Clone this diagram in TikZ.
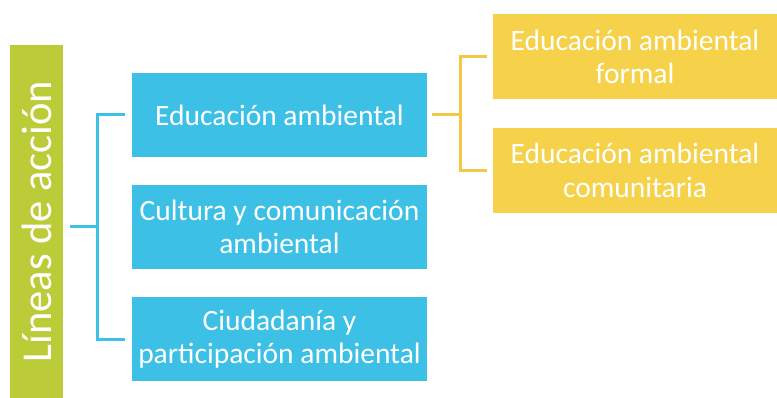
\documentclass[tikz,border=0pt]{standalone}
\usepackage{fontspec}
\setmainfont{Carlito}
\definecolor{cblue}{RGB}{60,192,230}
\definecolor{cyel}{RGB}{245,210,74}
\definecolor{cgreen}{RGB}{188,204,56}
\definecolor{cyline}{RGB}{242,200,70}
\begin{document}
\begin{tikzpicture}[x=1pt,y=-1pt,
  bluebox/.style={fill=cblue,text=white,minimum width=295pt,minimum height=84pt,align=center,inner sep=0pt,
    font=\fontsize{29.5}{33.5}\selectfont},
  yelbox/.style={fill=cyel,text=white,minimum width=284pt,minimum height=85pt,align=center,inner sep=0pt,
    font=\fontsize{29.5}{33.5}\selectfont},
  greenbar/.style={fill=cgreen,text=white,minimum width=53pt,minimum height=353pt,inner sep=0pt},
  blueline/.style={draw=cblue,line width=3pt},
  yelline/.style={draw=cyline,line width=3pt}]
\useasboundingbox (0,0) rectangle (777,398);
\node[greenbar] (g) at (36.5,221.5) {};
\node[text=white,rotate=90,font=\fontsize{42.5}{46}\selectfont] (gt) at (36.5,221.5) {Líneas de acción};
\node[bluebox] (b1) at (279.5,115) {Educación ambiental};
\node[bluebox] (b2) at (279.5,227) {Cultura y comunicación\\ambiental};
\node[bluebox] (b3) at (279.5,339) {Ciudadanía y\\participación ambiental};
\node[yelbox] (y1) at (635,57) {Educación ambiental\\formal};
\node[yelbox] (y2) at (635,170.5) {Educación ambiental\\comunitaria};
\coordinate (bx) at (97,227);
\coordinate (yx) at (460,115);
\draw[blueline] ([xshift=7pt]g.east |- b2.west) -- (bx);
\draw[blueline] ([xshift=-7pt]b1.west) -| (bx) |- ([xshift=-7pt]b3.west);
\draw[yelline] ([xshift=5pt]b1.east) -- (yx);
\draw[yelline] ([xshift=-6pt]y1.west) -| (yx) |- ([xshift=-6pt]y2.west);
\end{tikzpicture}
\end{document}
